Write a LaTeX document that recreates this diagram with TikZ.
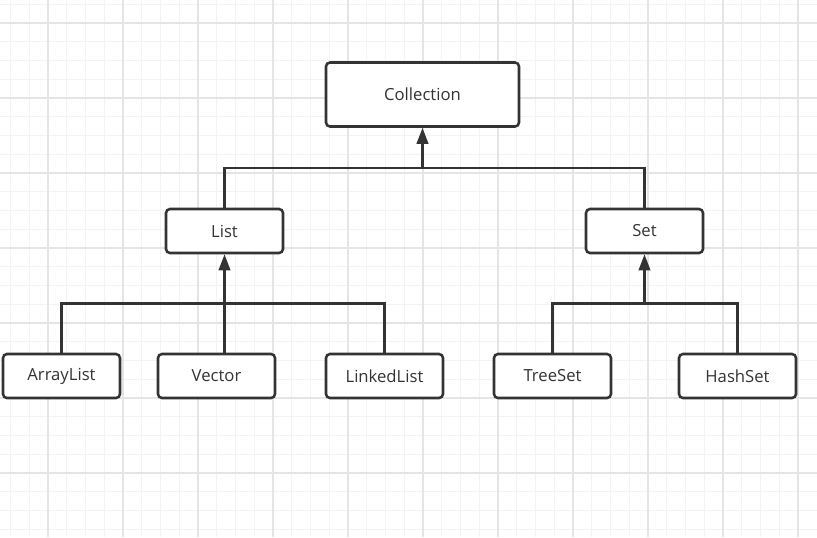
\documentclass[tikz,border=0pt]{standalone}
\usepackage{fontspec}
\setmainfont{Open Sans}
\usetikzlibrary{arrows.meta,positioning}

\definecolor{inkgray}{HTML}{333333}
\definecolor{minorline}{HTML}{F3F3F3}
\definecolor{majorline}{HTML}{E5E5E5}

\begin{document}
\begin{tikzpicture}[x=0.75pt,y=-0.75pt,>={Triangle[length=12pt,width=8.5pt]},
    box/.style={draw=inkgray,line width=1.9pt,rounded corners=3pt,fill=white,
      text=inkgray,font=\fontsize{12.5}{14}\selectfont,inner sep=0pt,
      minimum width=87.75pt,minimum height=33pt},
    link/.style={draw=inkgray,line width=2pt}]
  \useasboundingbox (0,0) rectangle (817,537);
  \fill[white] (0,0) rectangle (817,537);

  % Background grid
  \foreach \i in {-2,...,40}
    \draw[minorline,line width=0.8pt] ({48+18.75*\i},0) -- ++(0,537);
  \foreach \i in {-1,...,27}
    \draw[minorline,line width=0.8pt] (0,{23+18.75*\i}) -- ++(817,0);
  \foreach \i in {0,...,10}
    \draw[majorline,line width=0.8pt] ({48+75*\i},0) -- ++(0,537);
  \foreach \i in {0,...,6}
    \draw[majorline,line width=0.8pt] (0,{23+75*\i}) -- ++(817,0);

  % Interfaces
  \node[box,minimum width=144.75pt,minimum height=48pt] (Collection) at (422.5,94.5) {Collection};
  \node[box] (List) at (224.5,231) {List};
  \node[box] (Set) at (644.5,231) {Set};

  % Implementations
  \node[box] (ArrayList) at (61.5,376) {ArrayList};
  \node[box] (Vector) at (216.5,376) {Vector};
  \node[box] (LinkedList) at (384.5,376) {LinkedList};
  \node[box] (TreeSet) at (552.5,376) {TreeSet};
  \node[box] (HashSet) at (737.5,376) {HashSet};

  % Joints of the connectors
  \coordinate (topj) at (422.5,168);
  \coordinate (listj) at (224.5,303.5);
  \coordinate (setj) at (644.5,303.5);

  % Connectors
  \draw[link] (List.north) |- (topj) -| (Set.north);
  \draw[link,->] (topj) -- (Collection.south);
  \draw[link] (ArrayList.north) |- (listj) -| (LinkedList.north);
  \draw[link,->] (Vector.north -| List.south) -- (List.south);
  \draw[link] (TreeSet.north) |- (setj) -| (HashSet.north);
  \draw[link,->] (setj) -- (Set.south);
\end{tikzpicture}
\end{document}
